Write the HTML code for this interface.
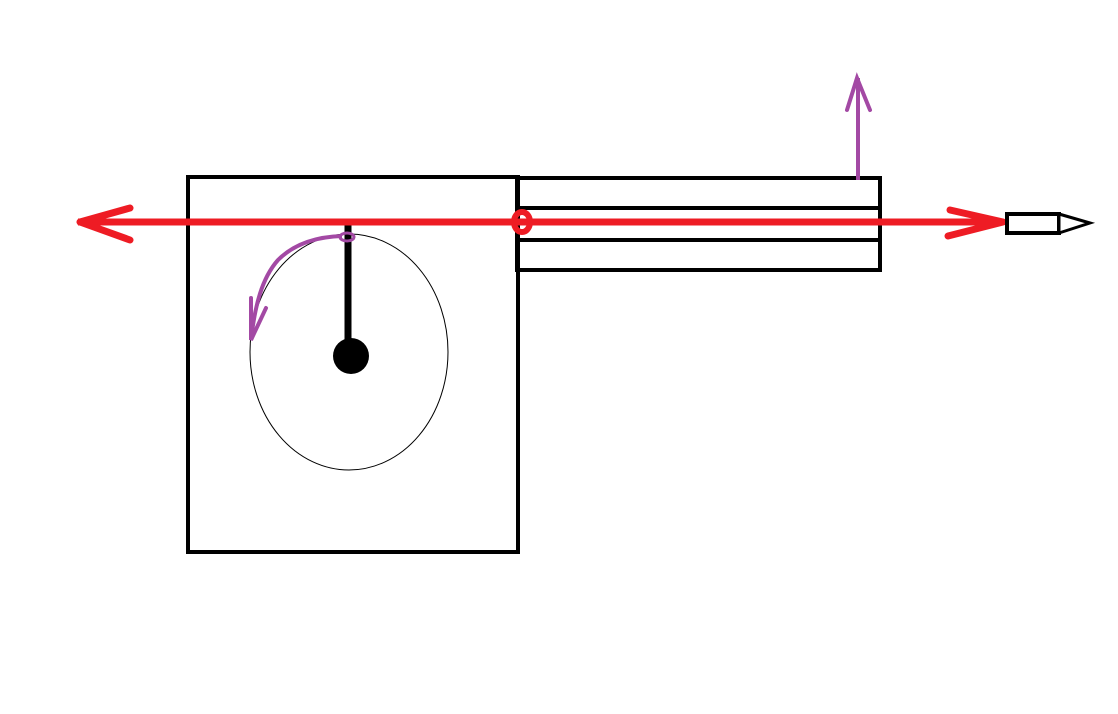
<!DOCTYPE html>
<html><head><style>html,body{margin:0;padding:0;background:#fff}svg{display:block}</style></head>
<body>
<svg width="1118" height="714" viewBox="0 0 1118 714" xmlns="http://www.w3.org/2000/svg">
<rect x="188" y="177" width="330" height="375" fill="none" stroke="#000" stroke-width="4"/>
<rect x="517" y="178" width="363" height="92" fill="none" stroke="#000" stroke-width="4"/>
<line x1="517" y1="208" x2="880" y2="208" stroke="#000" stroke-width="4"/>
<line x1="517" y1="240" x2="880" y2="240" stroke="#000" stroke-width="4"/>
<ellipse cx="349" cy="352" rx="99" ry="118" fill="none" stroke="#000" stroke-width="1"/>
<line x1="348" y1="222" x2="348" y2="350" stroke="#000" stroke-width="7"/>
<circle cx="351" cy="356" r="18" fill="#000"/>
<line x1="78" y1="222" x2="1003" y2="222" stroke="#ee1c24" stroke-width="7"/>
<polyline points="130,208 80,222 130,240" fill="none" stroke="#ee1c24" stroke-width="7" stroke-linecap="round" stroke-linejoin="round"/>
<polyline points="950,210 1003,222 948,236" fill="none" stroke="#ee1c24" stroke-width="7" stroke-linecap="round" stroke-linejoin="round"/>
<ellipse cx="522" cy="222" rx="8" ry="10" fill="none" stroke="#ee1c24" stroke-width="6"/>
<rect x="1007" y="214" width="52" height="19" fill="#fff" stroke="#000" stroke-width="4"/>
<polygon points="1059,214 1090,223 1059,233" fill="#fff" stroke="#000" stroke-width="3"/>
<line x1="858" y1="180" x2="858" y2="78" stroke="#a349a4" stroke-width="4"/>
<polyline points="847,110 857,78 870,110" fill="none" stroke="#a349a4" stroke-width="4" stroke-linecap="round"/>
<path d="M342,236 C310,237 290,248 278,260 C262,278 255,305 251,340" fill="none" stroke="#a349a4" stroke-width="4"/>
<ellipse cx="347" cy="237" rx="7" ry="4" fill="none" stroke="#a349a4" stroke-width="3"/>
<polyline points="251,298 251,340 266,308" fill="none" stroke="#a349a4" stroke-width="4" stroke-linecap="round"/>
</svg>
</body></html>
